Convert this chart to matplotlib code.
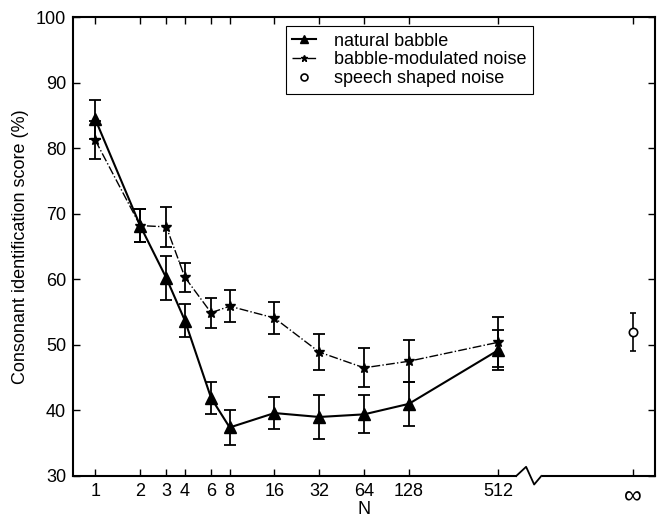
import matplotlib
matplotlib.use("Agg")
import matplotlib.pyplot as plt
import numpy as np
from matplotlib.lines import Line2D

plt.rcParams["font.family"] = ["Liberation Sans", "DejaVu Sans"]

n_values = [1, 2, 3, 4, 6, 8, 16, 32, 64, 128, 512]
tick_labels = ["1", "2", "3", "4", "6", "8", "16", "32", "64", "128", "512", "∞"]
inf_pos = 12  # position of the infinity point on the log2 axis

natural = [84.4, 68.2, 60.2, 53.7, 41.9, 37.4, 39.6, 39.0, 39.4, 41.0, 49.2]
natural_err = [3.0, 2.5, 3.4, 2.5, 2.5, 2.6, 2.4, 3.3, 2.9, 3.4, 3.0]

modulated = [81.2, 68.2, 68.0, 60.3, 54.9, 55.9, 54.1, 48.9, 46.5, 47.5, 50.4]
modulated_err = [2.9, 2.5, 3.0, 2.2, 2.3, 2.4, 2.5, 2.8, 3.0, 3.2, 3.8]

ssn_value = 51.9
ssn_err = 2.9

x = np.log2(n_values)

fig = plt.figure(figsize=(6.61, 5.19), dpi=100)
ax = fig.add_axes([0.1104, 0.0829, 0.8806, 0.8841])

ax.errorbar(x, natural, yerr=natural_err, color="black", lw=1.5,
            marker="^", ms=8, capsize=4, elinewidth=1.3, capthick=1.3)
ax.errorbar(x, modulated, yerr=modulated_err, color="black", lw=1.0,
            ls="-.", marker="*", ms=7, capsize=4, elinewidth=1.3,
            capthick=1.3)
ax.errorbar([inf_pos], [ssn_value], yerr=[ssn_err], color="black",
            ls="none", marker="o", ms=6, mfc="white", mew=1.2,
            capsize=2, elinewidth=1.2)

ax.set_xlim(-0.5, 12.5)
ax.set_ylim(30, 100)
ax.set_xticks(list(x) + [inf_pos])
ax.set_xticklabels(tick_labels)
ax.set_yticks(np.arange(30, 101, 10))
ax.tick_params(direction="in", top=True, right=True, length=5, width=1,
               labelsize=13)
ax.tick_params(axis="x", pad=5)
ax.tick_params(axis="y", pad=5)
for lab in ax.get_xticklabels():
    if lab.get_text() == "∞":
        lab.set_fontsize(18)
for sp in ax.spines.values():
    sp.set_linewidth(1.5)

# axis break on the bottom spine
ax.add_patch(plt.Rectangle((9.42, 29.3), 0.55, 1.4, transform=ax.transData,
                           facecolor="white", edgecolor="none",
                           clip_on=False, zorder=5))
ax.plot([9.4, 9.62, 9.80, 9.96], [30, 31.4, 28.7, 30], color="black", lw=1.3,
        clip_on=False, zorder=6)

ax.set_xlabel("N", fontsize=13, labelpad=-4)
ax.set_ylabel("Consonant identification score (%)", fontsize=13, labelpad=5)

handles = [
    Line2D([], [], color="black", lw=1.5, marker="^", ms=6),
    Line2D([], [], color="black", lw=1.0, ls="-.", marker="*", ms=5),
    Line2D([], [], color="black", ls="none", marker="o", ms=5,
           mfc="white", mew=1.2),
]
labels = ["natural babble", "babble-modulated noise", "speech shaped noise"]
leg = ax.legend(handles, labels, loc="upper left",
                bbox_to_anchor=(0.366, 0.980), fontsize=13, fancybox=False,
                edgecolor="black", framealpha=1, borderaxespad=0,
                handlelength=1.3, borderpad=0.35, labelspacing=0.1,
                handletextpad=1.0)
leg.get_frame().set_linewidth(0.8)

fig.savefig("out.png", dpi=100)
